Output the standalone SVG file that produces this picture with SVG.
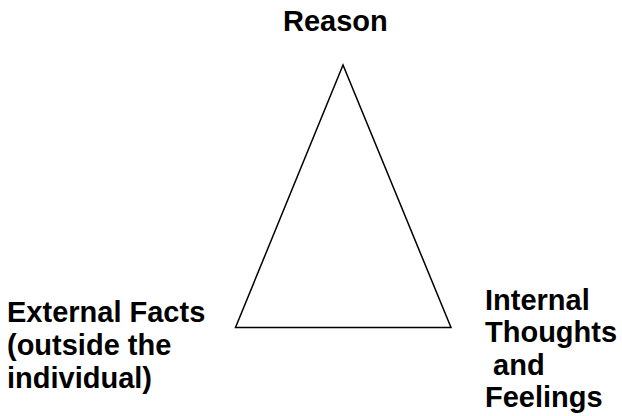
<svg xmlns="http://www.w3.org/2000/svg" width="622" height="416" viewBox="0 0 622 416">
<style>
.lbl{font-family:"Liberation Sans",Arial,sans-serif;font-weight:bold;font-size:29px;fill:#000;white-space:pre}
.edge{fill:none;stroke:#000;stroke-width:1.5}
</style>
<rect width="622" height="416" fill="#fff"/>
<g id="connectors">
<polygon class="edge" points="343,65 235.5,327.5 451,327.5"/>
</g>
<g id="reason"><text class="lbl" x="283" y="31">Reason</text></g>
<g id="external"><text class="lbl" x="7" y="322">External Facts<tspan x="7" y="355">(outside the</tspan><tspan x="7" y="388">individual)</tspan></text></g>
<g id="internal"><text class="lbl" x="485" y="310" xml:space="preserve">Internal<tspan x="485" y="342">Thoughts</tspan><tspan x="485" y="375"> and</tspan><tspan x="485" y="407">Feelings</tspan></text></g>
</svg>
